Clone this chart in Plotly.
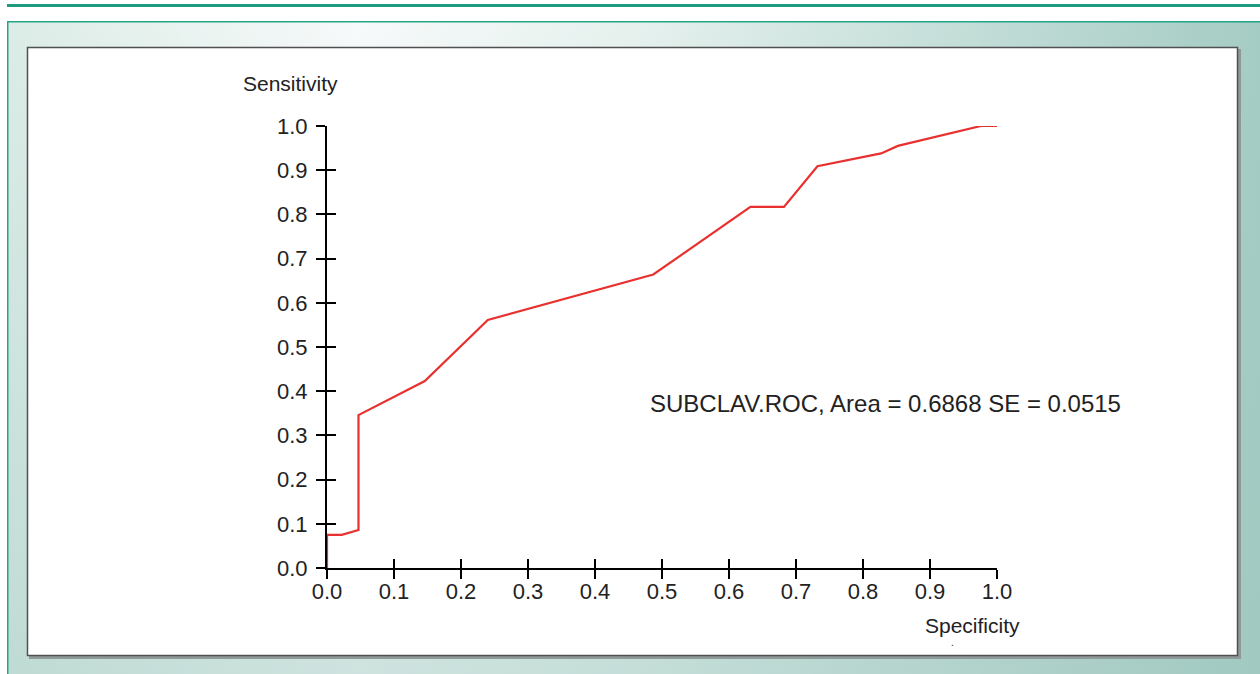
import base64
import plotly.graph_objects as go

# ROC curve data
specificity = [0.0, 0.0, 0.022, 0.047, 0.047, 0.146, 0.240, 0.487, 0.632, 0.682, 0.732, 0.827, 0.852, 0.976, 1.0]
sensitivity = [0.0, 0.075, 0.075, 0.086, 0.346, 0.423, 0.561, 0.664, 0.817, 0.817, 0.909, 0.938, 0.955, 1.0, 1.0]

tick_vals = [0.0, 0.1, 0.2, 0.3, 0.4, 0.5, 0.6, 0.7, 0.8, 0.9, 1.0]
tick_text = ["0.0", "0.1", "0.2", "0.3", "0.4", "0.5", "0.6", "0.7", "0.8", "0.9", "1.0"]

label_text = "SUBCLAV.ROC, Area = 0.6868 SE = 0.0515"

W, H = 1260, 674
L, R, T, B = 327, 263, 126, 106
PW, PH = W - L - R, H - T - B

svg = f"""<svg xmlns='http://www.w3.org/2000/svg' width='{W}' height='{H}' viewBox='0 0 {W} {H}' preserveAspectRatio='none'>
<defs>
<linearGradient id='g' x1='0' y1='0' x2='1' y2='0'>
<stop offset='0' stop-color='#dcece7'/>
<stop offset='0.28' stop-color='#f7fafa'/>
<stop offset='0.5' stop-color='#e6f1ee'/>
<stop offset='1' stop-color='#a5ccc4'/>
</linearGradient>
<linearGradient id='v' x1='0' y1='0' x2='0' y2='1'>
<stop offset='0' stop-color='#9cc6bd' stop-opacity='0'/>
<stop offset='1' stop-color='#9cc6bd' stop-opacity='0.45'/>
</linearGradient>
</defs>
<rect width='{W}' height='{H}' fill='white'/>
<rect x='7' y='4' width='1253' height='3' fill='#1e9a80'/>
<rect x='7' y='21' width='1253' height='653' fill='url(#g)'/>
<rect x='7' y='21' width='1253' height='653' fill='url(#v)'/>
<rect x='7' y='21' width='1253' height='1.5' fill='#25a487'/>
<rect x='7' y='21' width='1.5' height='653' fill='#25a487'/>
<rect x='29' y='49' width='1212' height='610' fill='#8f9a98'/>
<rect x='27.5' y='47.5' width='1210' height='608' fill='white' stroke='#505050' stroke-width='1.5'/>
</svg>"""
src = "data:image/svg+xml;base64," + base64.b64encode(svg.encode()).decode()

fig = go.Figure()
fig.add_trace(go.Scatter(
    x=specificity, y=sensitivity, mode="lines",
    line=dict(color="#e8312f", width=2.2), cliponaxis=False,
    hoverinfo="skip", showlegend=False,
))
# invisible trace on overlay axes to make them render
fig.add_trace(go.Scatter(x=[0, 1], y=[0, 1], xaxis="x2", yaxis="y2", mode="markers",
                         marker=dict(opacity=0), hoverinfo="skip", showlegend=False))

font_family = "Liberation Sans, Arial, sans-serif"
axis_common = dict(range=[0, 1], showgrid=False, zeroline=False,
                   tickvals=tick_vals, ticklen=9, tickwidth=2, tickcolor="black",
                   showline=True, linecolor="black", linewidth=2)

fig.update_layout(
    width=W, height=H,
    margin=dict(l=L, r=R, t=T, b=B),
    paper_bgcolor="white", plot_bgcolor="rgba(0,0,0,0)",
    font=dict(family=font_family, color="#222222"),
    xaxis=dict(**axis_common, ticktext=tick_text, ticks="outside",
               tickfont=dict(size=22, color="#222222"), ticklabelstandoff=-6),
    yaxis=dict(**axis_common, ticktext=tick_text, ticks="outside",
               tickfont=dict(size=22, color="#222222"), ticklabelstandoff=4),
    xaxis2=dict(**axis_common, overlaying="x", ticks="inside", showticklabels=False,
                anchor="y2", side="bottom"),
    yaxis2=dict(**axis_common, overlaying="y", ticks="inside", showticklabels=False,
                anchor="x2", side="left"),
    images=[dict(source=src, xref="paper", yref="paper",
                 x=-L / PW, y=1 + T / PH, sizex=W / PW, sizey=H / PH,
                 xanchor="left", yanchor="top", sizing="stretch", layer="below")],
    annotations=[
        dict(text="Sensitivity", xref="paper", yref="paper",
             x=(290 - L) / PW, y=(H - B - 84) / PH, showarrow=False,
             xanchor="center", yanchor="middle", font=dict(size=21, color="#222222")),
        dict(text="Specificity", xref="paper", yref="paper",
             x=(972 - L) / PW, y=(H - B - 625) / PH, showarrow=False,
             xanchor="center", yanchor="middle", font=dict(size=21, color="#222222")),
        dict(text=".", xref="paper", yref="paper",
             x=(952 - L) / PW, y=(H - B - 642) / PH, showarrow=False,
             xanchor="center", yanchor="middle", font=dict(size=10, color="#222222")),
        dict(text=label_text, xref="paper", yref="paper",
             x=(648 - L) / PW, y=(H - B - 403) / PH, showarrow=False,
             xanchor="left", yanchor="middle", font=dict(size=24, color="#222222")),
    ],
)

fig.write_html(
    "out.html",
    config={"displayModeBar": False},
    post_script="document.body.style.margin='0';document.body.style.overflow='hidden';",
)
